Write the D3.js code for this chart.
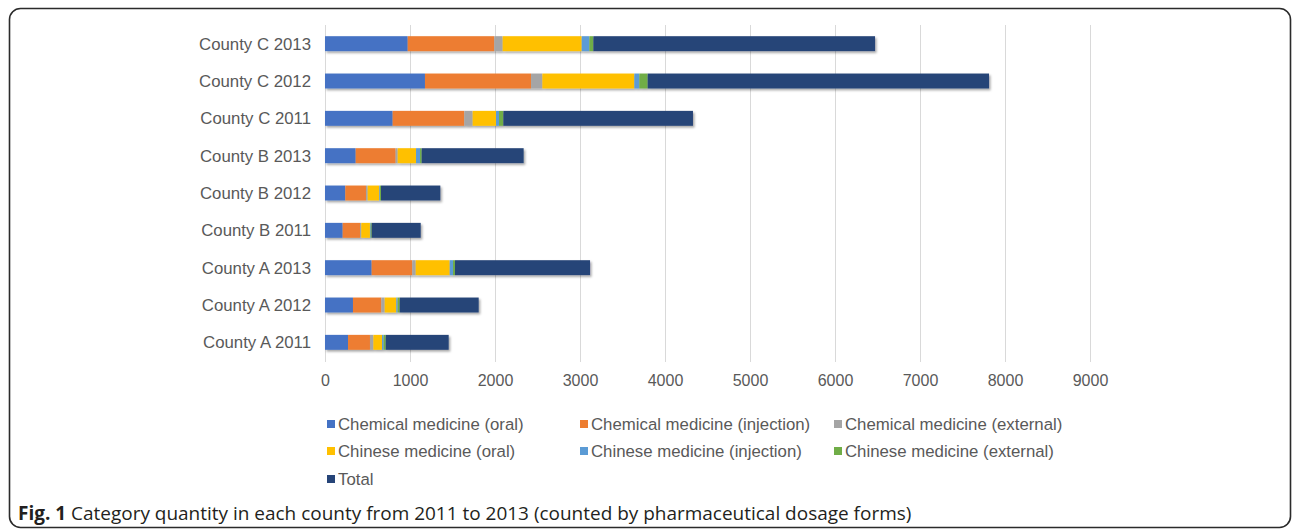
<!DOCTYPE html>
<html><head><meta charset="utf-8">
<script src="https://cdn.jsdelivr.net/npm/d3@7"></script>
<style>html,body{margin:0;padding:0;background:#fff;}svg{display:block;}</style>
</head><body><svg id="c" width="1292" height="529"></svg>
<script>
const categories = ["County C 2013","County C 2012","County C 2011","County B 2013","County B 2012","County B 2011","County A 2013","County A 2012","County A 2011"];
const seriesNames = ["Chemical medicine (oral)","Chemical medicine (injection)","Chemical medicine (external)","Chinese medicine (oral)","Chinese medicine (injection)","Chinese medicine (external)","Total"];
const chemOral = [973, 1176, 796, 361, 239, 208, 549, 329, 271];
const chemInj  = [1019, 1248, 843, 470, 243, 204, 478, 334, 258];
const chemExt  = [98, 133, 98, 24, 20, 15, 40, 39, 40];
const cnOral   = [930, 1082, 275, 216, 137, 102, 400, 137, 102];
const cnInj    = [90, 59, 35, 47, 8, 8, 39, 16, 19];
const cnExt    = [47, 98, 51, 19, 12, 12, 23, 23, 24];
const total    = [3314, 4016, 2231, 1200, 698, 577, 1589, 930, 741];
const xTicks = [0,1000,2000,3000,4000,5000,6000,7000,8000,9000];
const colors = ["#4472C4","#ED7D31","#A5A5A5","#FFC000","#5B9BD5","#70AD47","#264478"];

const seriesVals = [chemOral, chemInj, chemExt, cnOral, cnInj, cnExt, total];
const rows = categories.map((c,i)=>{const o={cat:c}; seriesNames.forEach((s,j)=>o[s]=seriesVals[j][i]); return o;});
const stack = d3.stack().keys(seriesNames)(rows);

const svg = d3.select("#c");
const font = "'Liberation Sans', Arial, sans-serif";
const defs = svg.append("defs");
const f = defs.append("filter").attr("id","sh").attr("x","-5%").attr("y","-30%").attr("width","110%").attr("height","180%");
f.append("feDropShadow").attr("dx",1.5).attr("dy",1.8).attr("stdDeviation",1.2).attr("flood-color","#000").attr("flood-opacity",0.35);

// frame
svg.append("rect").attr("x",9.5).attr("y",8.5).attr("width",1281).attr("height",519).attr("rx",11)
  .attr("fill","none").attr("stroke","#2b2b2b").attr("stroke-width",1.6);

const x = d3.scaleLinear().domain([0,9000]).range([325,1090]);
const y = d3.scaleBand().domain(categories).range([25,361]).paddingInner(0.6).paddingOuter(0.3);

// grid
svg.append("g").selectAll("line").data(xTicks).join("line")
  .attr("x1",d=>Math.round(x(d))+0.5).attr("x2",d=>Math.round(x(d))+0.5).attr("y1",25).attr("y2",362)
  .attr("stroke","#D9D9D9").attr("stroke-width",1);

// bars
const bars = svg.append("g").attr("filter","url(#sh)");
stack.forEach((s,j)=>{
  bars.append("g").attr("fill",colors[j]).selectAll("rect").data(s).join("rect")
    .attr("x",d=>x(d[0])).attr("width",d=>x(d[1])-x(d[0]))
    .attr("y",d=>y(d.data.cat)).attr("height",y.bandwidth());
});

// y labels
svg.append("g").selectAll("text").data(categories).join("text")
  .attr("x",311).attr("y",d=>y(d)+y.bandwidth()/2).attr("dy","0.35em").attr("text-anchor","end")
  .attr("font-family",font).attr("font-size",16.8).attr("fill","#595959").text(d=>d);

// x tick labels
const xa = svg.append("g").attr("transform","translate(0,362)").call(d3.axisBottom(x).tickValues(xTicks).tickSize(0).tickPadding(13).tickFormat(d3.format("d")));
xa.select(".domain").remove();
xa.selectAll("text").attr("font-family",font).attr("font-size",16).attr("fill","#595959");

// legend
const legPos = [[327,424],[580,424],[834,424],[327,451],[580,451],[834,451],[327,479]];
const lg = svg.append("g");
seriesNames.forEach((s,i)=>{
  const [lx,ly] = legPos[i];
  lg.append("rect").attr("x",lx).attr("y",ly-4).attr("width",8).attr("height",8).attr("fill",colors[i]);
  lg.append("text").attr("x",lx+11).attr("y",ly).attr("dy","0.35em").attr("font-family",font).attr("font-size",16.8).attr("fill","#595959").text(s);
});

// caption
const cap = svg.append("text").attr("x",18).attr("y",520).attr("font-family","'Open Sans', sans-serif").attr("font-size",17).attr("fill","#231F20");
cap.append("tspan").attr("font-weight","bold").text("Fig. 1");
cap.append("tspan").text(" Category quantity in each county from 2011 to 2013 (counted by pharmaceutical dosage forms)");
const w = cap.node().getComputedTextLength();
cap.attr("font-size", 17*894/w);
</script></body></html>
